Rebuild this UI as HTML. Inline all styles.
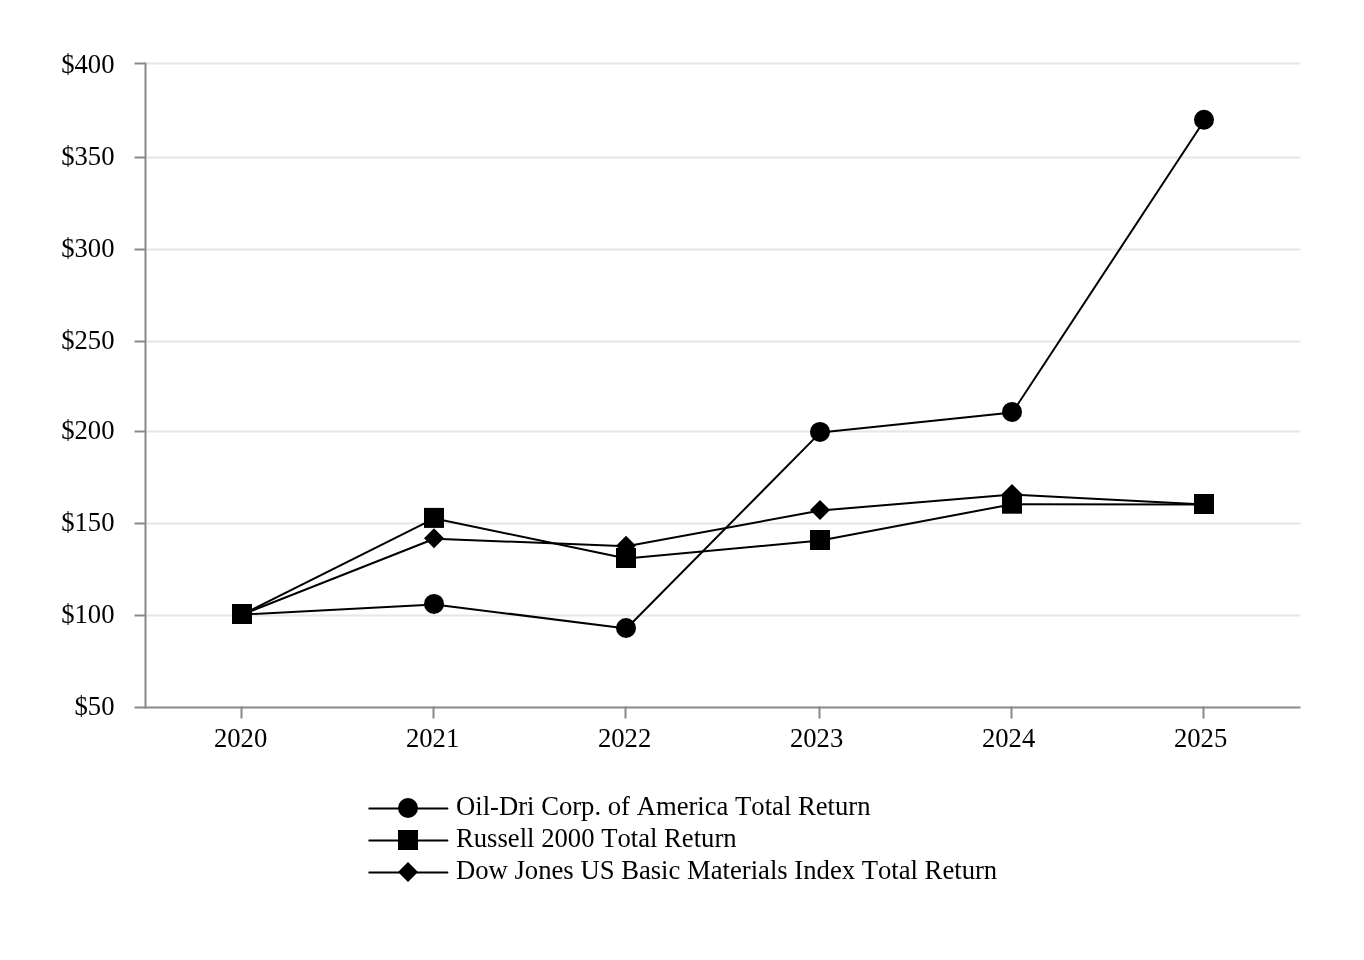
<!DOCTYPE html>
<html lang="en"><head><meta charset="utf-8"><title>Total Return Chart</title>
<style>
html,body{margin:0;padding:0;background:#fff;}
body{width:1364px;height:960px;overflow:hidden;}
svg{display:block;}
text{font-family:"Liberation Serif","Times New Roman",serif;font-size:26.67px;fill:#000;font-kerning:none;}
</style></head><body>
<svg width="1364" height="960" viewBox="0 0 1364 960">
<rect width="1364" height="960" fill="#fff"/>
<g stroke="#e6e6e6" stroke-width="2" fill="none">
<line x1="146.5" y1="63.5" x2="1300.5" y2="63.5"/>
<line x1="146.5" y1="157.5" x2="1300.5" y2="157.5"/>
<line x1="146.5" y1="249.5" x2="1300.5" y2="249.5"/>
<line x1="146.5" y1="341.5" x2="1300.5" y2="341.5"/>
<line x1="146.5" y1="431.5" x2="1300.5" y2="431.5"/>
<line x1="146.5" y1="523.5" x2="1300.5" y2="523.5"/>
<line x1="146.5" y1="615.5" x2="1300.5" y2="615.5"/>
</g>
<g stroke="#898989" stroke-width="2" fill="none">
<line x1="145.5" y1="62.5" x2="145.5" y2="708.5"/>
<line x1="134.5" y1="707.5" x2="1300.5" y2="707.5"/>
<line x1="134.5" y1="63.5" x2="145.5" y2="63.5"/>
<line x1="134.5" y1="157.5" x2="145.5" y2="157.5"/>
<line x1="134.5" y1="249.5" x2="145.5" y2="249.5"/>
<line x1="134.5" y1="341.5" x2="145.5" y2="341.5"/>
<line x1="134.5" y1="431.5" x2="145.5" y2="431.5"/>
<line x1="134.5" y1="523.5" x2="145.5" y2="523.5"/>
<line x1="134.5" y1="615.5" x2="145.5" y2="615.5"/>
<line x1="241.5" y1="706.5" x2="241.5" y2="718.5"/>
<line x1="433.5" y1="706.5" x2="433.5" y2="718.5"/>
<line x1="625.5" y1="706.5" x2="625.5" y2="718.5"/>
<line x1="819.5" y1="706.5" x2="819.5" y2="718.5"/>
<line x1="1011.5" y1="706.5" x2="1011.5" y2="718.5"/>
<line x1="1203.5" y1="706.5" x2="1203.5" y2="718.5"/>
</g>
<g text-anchor="end">
<text transform="translate(114.5,72.6) scale(1,1)">$400</text>
<text transform="translate(114.5,164.7) scale(1,1)">$350</text>
<text transform="translate(114.5,256.7) scale(1,1)">$300</text>
<text transform="translate(114.5,348.7) scale(1,1)">$250</text>
<text transform="translate(114.5,438.7) scale(1,1)">$200</text>
<text transform="translate(114.5,530.7) scale(1,1)">$150</text>
<text transform="translate(114.5,622.7) scale(1,1)">$100</text>
<text transform="translate(114.5,714.7) scale(1,1)">$50</text>
</g>
<g text-anchor="middle">
<text transform="translate(240.6,746.7) scale(1,1)">2020</text>
<text transform="translate(432.6,746.7) scale(1,1)">2021</text>
<text transform="translate(624.6,746.7) scale(1,1)">2022</text>
<text transform="translate(816.6,746.7) scale(1,1)">2023</text>
<text transform="translate(1008.6,746.7) scale(1,1)">2024</text>
<text transform="translate(1200.6,746.7) scale(1,1)">2025</text>
</g>
<g stroke="#000" stroke-width="2" fill="none" stroke-linejoin="round">
<polyline points="242.45,614.50 434.45,604.40 626.45,628.50 820.45,432.40 1012.45,412.40 1204.45,120.25"/>
<polyline points="242.45,614.50 434.45,518.40 626.45,558.50 820.45,540.50 1012.45,504.20 1204.45,504.50"/>
<polyline points="242.45,614.50 434.45,538.70 626.45,546.30 820.45,510.50 1012.45,494.60 1204.45,504.50"/>
</g>
<g fill="#000">
<circle cx="242" cy="614" r="10"/>
<circle cx="434" cy="603.9" r="10"/>
<circle cx="626" cy="628" r="10"/>
<circle cx="820" cy="431.9" r="10"/>
<circle cx="1012" cy="411.9" r="10"/>
<circle cx="1204" cy="119.75" r="10"/>
<polygon points="242,604 252,614 242,624 232,614"/>
<polygon points="434,528.2 444,538.2 434,548.2 424,538.2"/>
<polygon points="626,535.8 636,545.8 626,555.8 616,545.8"/>
<polygon points="820,500 830,510 820,520 810,510"/>
<polygon points="1012,484.1 1022,494.1 1012,504.1 1002,494.1"/>
<polygon points="1204,494 1214,504 1204,514 1194,504"/>
<rect x="232" y="604" width="20" height="20"/>
<rect x="424" y="507.9" width="20" height="20"/>
<rect x="616" y="548" width="20" height="20"/>
<rect x="810" y="530" width="20" height="20"/>
<rect x="1002" y="493.7" width="20" height="20"/>
<rect x="1194" y="494" width="20" height="20"/>
</g>
<g stroke="#000" stroke-width="2" fill="none" stroke-linecap="round">
<line x1="369.3" y1="808.5" x2="447.4" y2="808.5"/>
<line x1="369.3" y1="840.5" x2="447.4" y2="840.5"/>
<line x1="369.3" y1="872.5" x2="447.4" y2="872.5"/>
</g>
<g fill="#000">
<circle cx="408" cy="808" r="10"/>
<rect x="398" y="830" width="20" height="20"/>
<polygon points="408,862 418,872 408,882 398,872"/>
</g>
<text transform="translate(456,814.9) scale(1,1)">Oil-Dri Corp. of America Total Return</text>
<text transform="translate(456,846.9) scale(1,1)">Russell 2000 Total Return</text>
<text transform="translate(456,878.9) scale(1,1)">Dow Jones US Basic Materials Index Total Return</text>
</svg></body></html>
